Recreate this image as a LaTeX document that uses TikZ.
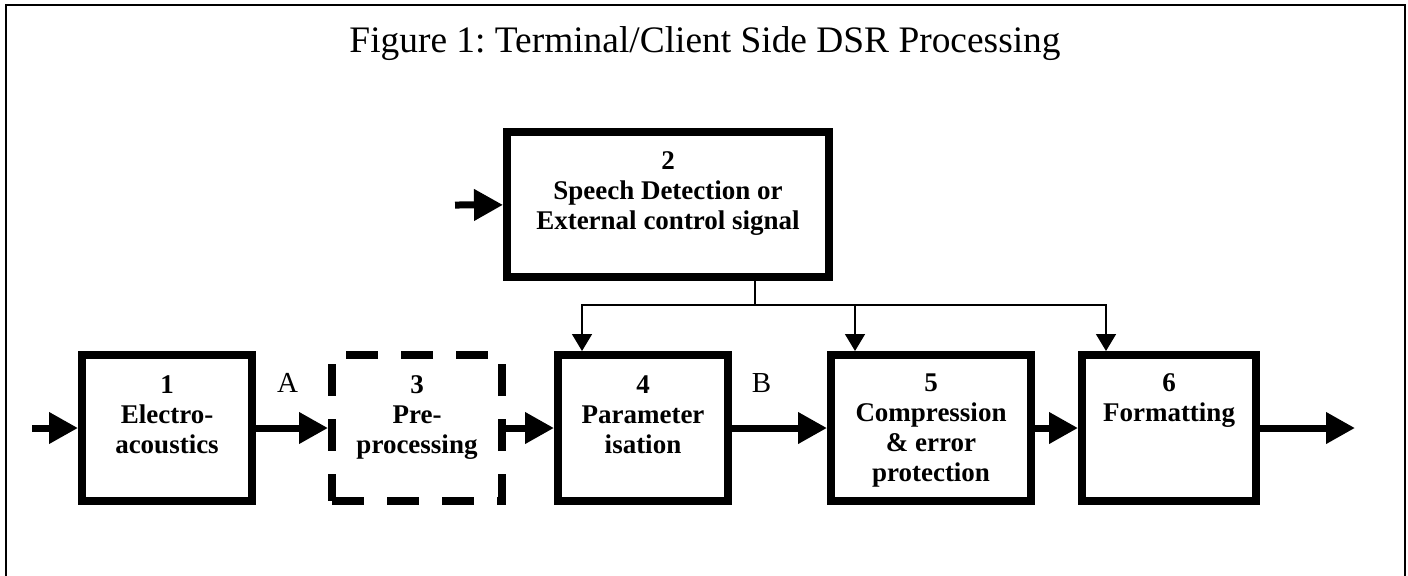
\documentclass[tikz,border=0pt]{standalone}
\usepackage{fontspec}
\setmainfont{Liberation Serif}
\frenchspacing
\usetikzlibrary{arrows.meta,positioning}
\tikzset{
  blk/.style={draw,line width=4pt,minimum width=85pt,minimum height=73pt,inner sep=0pt},
  dblk/.style={blk,dash pattern=on 16pt off 11.5pt},
  txt/.style={align=center,inner sep=0pt,font=\fontsize{13.5pt}{15pt}\selectfont\bfseries},
  lbl/.style={inner sep=0pt,font=\fontsize{14.5pt}{16pt}\selectfont},
  ar/.style={-{Triangle[length=14.5pt,width=15pt]},line width=3.5pt},
  sig/.style={-{Triangle[length=8.5pt,width=10pt]},line width=0.75pt},
}
\begin{document}
\begin{tikzpicture}
\useasboundingbox (0,0) rectangle (704pt,-287.5pt);
% frame and title
\draw[line width=1pt] (3pt,-292pt) -- (3pt,-2.5pt) -- (702.5pt,-2.5pt) -- (702.5pt,-292pt);
\node[anchor=base,inner sep=0pt,font=\fontsize{18.7pt}{22pt}\selectfont] (ttl) at (352.5pt,-26pt) {Figure 1: Terminal/Client Side DSR Processing};
% blocks
\node[blk] (b1) at (83.5pt,-214pt) {};
\node[dblk,right=36pt of b1] (b3) {};
\node[blk,right=24pt of b3] (b4) {};
\node[blk,right=47.5pt of b4,minimum width=100pt] (b5) {};
\node[blk,right=21.5pt of b5,minimum width=87pt] (b6) {};
\node[blk,minimum width=161pt,minimum height=72.5pt] (b2) at (334pt,-102.25pt) {};
\node[txt,below=12pt of b1.north] (t1) {1\\Electro-\\acoustics};
\node[txt,below=12pt of b3.north] (t3) {3\\Pre-\\processing};
\node[txt,below=12pt of b4.north] (t4) {4\\Parameter\\isation};
\node[txt,below=11pt of b5.north] (t5) {5\\Compression\\\& error\\protection};
\node[txt,below=11pt of b6.north] (t6) {6\\Formatting};
\node[txt,below=11.5pt of b2.north] (t2) {2\\Speech Detection or\\External control signal};
% main chain
\coordinate (in1) at (16pt,-214pt);
\coordinate (in2) at (227.5pt,-102.5pt);
\coordinate (out) at (677.5pt,-214pt);
\draw[ar] (in1) -- (b1);
\draw[ar] (b1) -- node[lbl,pos=0.44,above=16pt] (la) {A} (b3);
\draw[ar] (b3) -- (b4);
\draw[ar] (b4) -- node[lbl,pos=0.31,above=16pt] (lb) {B} (b5);
\draw[ar] (b5) -- (b6);
\draw[ar] (b6) -- (out);
\draw[ar] (in2) -- (b2);
% control lines
\coordinate (j) at (377.5pt,-152.5pt);
\draw[line width=0.75pt] (b2.south -| j) -- (j);
\draw[sig] (j) -| ([xshift=14pt]b4.north west);
\draw[sig] (j) -| ([xshift=14pt]b5.north west);
\draw[sig] (j) -| ([xshift=14pt]b6.north west);
\end{tikzpicture}
\end{document}
